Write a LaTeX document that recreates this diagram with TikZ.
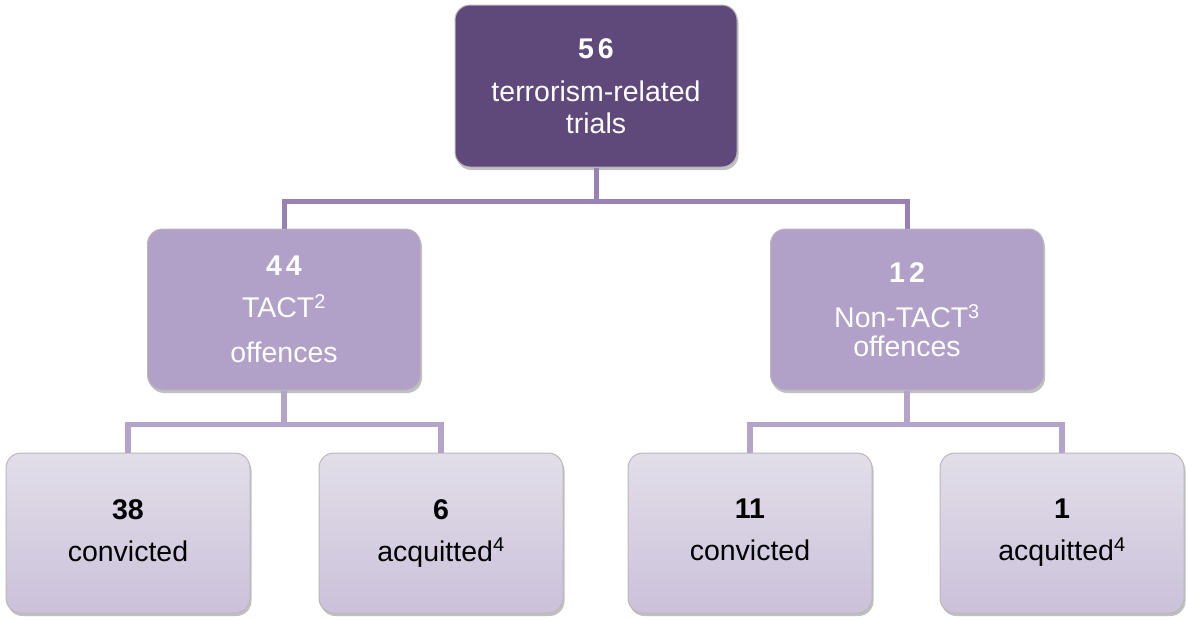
\documentclass[tikz,border=0pt]{standalone}
\usepackage{fontspec}
\setmainfont{Liberation Sans}
\newfontfamily\numfont[LetterSpace=14]{Liberation Sans}
\usetikzlibrary{positioning,shadows}

\definecolor{darkpurple}{HTML}{5F497A}
\definecolor{midpurple}{HTML}{B1A0C7}
\definecolor{lowtop}{HTML}{E2DEE9}
\definecolor{lowbot}{HTML}{CBC1DA}
\definecolor{linedark}{HTML}{9882B3}
\definecolor{linelight}{HTML}{B3A4C9}

\begin{document}
\begin{tikzpicture}[x=1pt, y=-1pt,
  box/.style={rounded corners=15pt, draw=gray!55, line width=1pt, align=center, inner sep=0pt,
    font=\fontsize{28.5}{32}\selectfont,
    drop shadow={shadow xshift=1.5pt, shadow yshift=-3pt, opacity=0.35, fill=black!70}},
  topbox/.style={box, fill=darkpurple, text=white, minimum width=282pt, minimum height=162pt},
  midbox/.style={box, fill=midpurple, text=white, minimum width=273pt, minimum height=161pt},
  lowbox/.style={box, top color=lowtop, bottom color=lowbot, text=black, minimum width=244pt, minimum height=160pt},
  uplink/.style={draw=linedark, line width=5pt},
  lowlink/.style={draw=linelight, line width=5.5pt}]
  \path[fill=white, use as bounding box] (0,0) rectangle (1186,619);

  \node[topbox] (trials) at (596,86) {{\numfont\bfseries 56}\\[11pt]terrorism-related\\trials};
  \node[midbox] (tact) at (284,309.5) {{\numfont\bfseries 44}\\[10pt]TACT\textsuperscript{2}\\[13pt]offences};
  \node[midbox] (nontact) at (907,309.5) {{\numfont\bfseries 12}\\[13pt]Non-TACT\textsuperscript{3}\\[-3pt]offences};

  \foreach \x/\n/\txt/\name in {128/38/convicted/tconv, 441/6/acquitted\textsuperscript{4}/tacq,
      750/11/convicted/nconv, 1062/1/acquitted\textsuperscript{4}/nacq} {
    \node[lowbox] (\name) at (\x,533) {\textbf{\n}\\[10pt]\txt\vphantom{q}};
  }

  \draw[uplink] (trials.south) -- ++(0,34) -| (tact.north);
  \draw[uplink] (trials.south) -- ++(0,34) -| (nontact.north);
  \draw[lowlink] (tact.south) -- ++(0,34) -| (tconv.north);
  \draw[lowlink] (tact.south) -- ++(0,34) -| (tacq.north);
  \draw[lowlink] (nontact.south) -- ++(0,34) -| (nconv.north);
  \draw[lowlink] (nontact.south) -- ++(0,34) -| (nacq.north);
\end{tikzpicture}
\end{document}
